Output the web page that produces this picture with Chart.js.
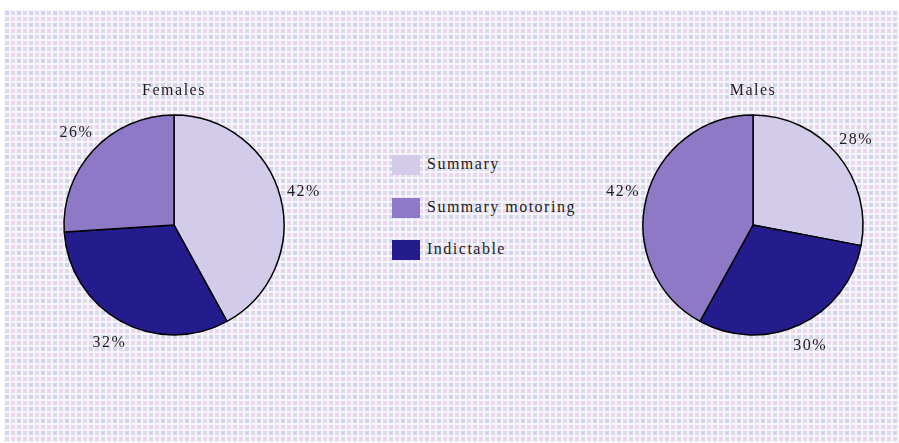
<!DOCTYPE html>
<html>
<head>
<meta charset="utf-8">
<script src="https://cdn.jsdelivr.net/npm/chart.js@4/dist/chart.umd.min.js"></script>
<style>
  html, body { margin: 0; padding: 0; background: #fff; }
  #page { position: relative; width: 899px; height: 443px; overflow: hidden; }
  #bg { position: absolute; left: 4px; top: 10px; width: 895px; height: 433px; }
  .pie { position: absolute; top: 0; }
  #legend { position: absolute; left: 392px; top: 155px; font-family: "Liberation Serif", "Times New Roman", serif;
            font-size: 16px; letter-spacing: 1.5px; color: #1c1c1c; }
  .item { position: relative; height: 20px; margin-bottom: 22.5px; }
  .box { position: absolute; left: 0; top: 0; width: 28px; height: 20px; }
  .txt { position: absolute; left: 35px; top: 0px; white-space: nowrap; line-height: 18px; }
</style>
</head>
<body>
<div id="page">
  <div id="bg"></div>
  <canvas id="females" class="pie" style="left:0px"></canvas>
  <div id="legend"></div>
  <canvas id="males" class="pie" style="left:539px"></canvas>
</div>
<script>
const categories = ['Summary', 'Summary motoring', 'Indictable'];
const females = [42, 26, 32];
const males = [28, 42, 30];
const colors = ['#d2cbea', '#8e79c6', '#241c8c'];
// slices go round clockwise from twelve o'clock in this order
const sliceOrder = [0, 2, 1];

// dotted background tile
function makeTile(){
	let t = document.createElement('canvas');
	t.width = 12; t.height = 12;
	let c = t.getContext('2d');
	c.fillStyle = '#f6f5fb';
	c.fillRect(0, 0, 12, 12);
	let cells = [['#d2d3f2', 0, 0], ['#dedbe6', 6, 0], ['#dedbe6', 0, 6], ['#f0d4f0', 6, 6]];
	cells.forEach(([col, x, y]) => {
		c.fillStyle = col;
		c.fillRect(x + 1, y + 1, 4, 4);
	});
	return t.toDataURL();
}
document.getElementById('bg').style.background = `url(${makeTile()})`;

// legend boxes
let legend = document.getElementById('legend');
categories.forEach((name, i) => {
	let item = document.createElement('div');
	item.className = 'item';
	item.innerHTML = `<div class="box" style="background:${colors[i]}"></div><div class="txt">${name}</div>`;
	legend.appendChild(item);
});

const labelFont = '16px "Liberation Serif", "Times New Roman", serif';

const outsideLabels = {
	id: 'outsideLabels',
	afterDatasetsDraw(chart, args, opts){
		const ctx = chart.ctx;
		const meta = chart.getDatasetMeta(0);
		const values = chart.data.datasets[0].data;
		const total = values.reduce((a, b) => a + b, 0);
		ctx.save();
		ctx.font = labelFont;
		ctx.letterSpacing = '1.5px';
		ctx.fillStyle = '#1c1c1c';
		ctx.textAlign = 'center';
		ctx.textBaseline = 'middle';
		let cx = 0, cy = 0, r = 0;
		meta.data.forEach((arc, i) => {
			const p = arc.getProps(['x', 'y', 'startAngle', 'endAngle', 'outerRadius'], true);
			cx = p.x; cy = p.y; r = p.outerRadius;
			const mid = (p.startAngle + p.endAngle) / 2;
			const d = r + 24;
			const pct = Math.round(values[i] / total * 100) + '%';
			ctx.fillText(pct, cx + Math.cos(mid) * d, cy + Math.sin(mid) * d);
		});
		ctx.fillText(opts.title, cx, cy - r - 24);
		ctx.restore();
	}
};

function pieChart(id, title, values, width, cx, cy, r){
	const el = document.getElementById(id);
	el.width = width; el.height = 443;
	el.style.width = width + 'px'; el.style.height = '443px';
	const data = {
		labels: sliceOrder.map(i => categories[i]),
		datasets: [{
			data: sliceOrder.map(i => values[i]),
			backgroundColor: sliceOrder.map(i => colors[i]),
			borderColor: '#000',
			borderWidth: 1.5,
			hoverOffset: 0
		}]
	};
	const config = {
		type: 'pie',
		data: data,
		options: {
			responsive: false,
			animation: false,
			events: [],
			radius: r,
			layout: {
				padding: { left: cx - r - 2, right: width - cx - r - 2, top: cy - r - 2, bottom: 443 - cy - r - 2 }
			},
			plugins: {
				legend: { display: false },
				tooltip: { enabled: false },
				outsideLabels: { title: title }
			}
		},
		plugins: [outsideLabels]
	};
	new Chart(el.getContext('2d'), config);
}

pieChart('females', 'Females', females, 360, 174, 225, 110);
pieChart('males', 'Males', males, 360, 753 - 539, 225, 110);
</script>
</body>
</html>
